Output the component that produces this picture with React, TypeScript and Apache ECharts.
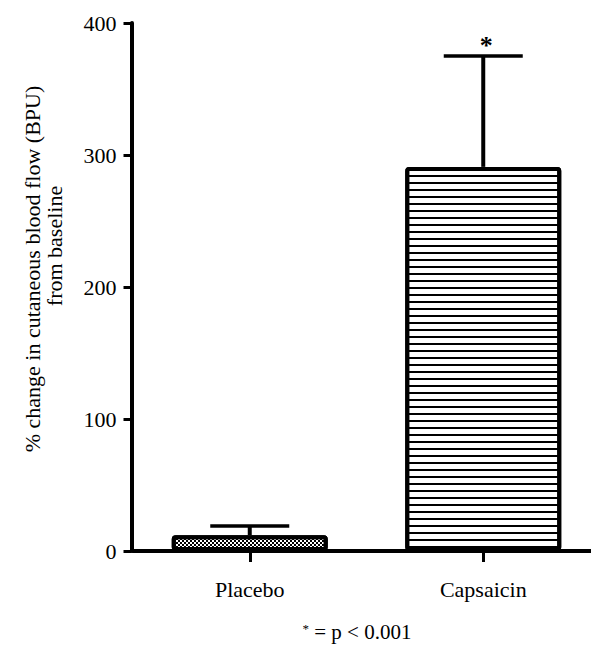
import React, { useEffect, useRef } from "react";
import * as echarts from "echarts";

const categories = ["Placebo", "Capsaicin"];
const meanValues = [12, 291];
const upperErrorValues = [19, 375];
const significance = ["", "*"];
const yTicks = { min: 0, max: 400, interval: 100 };
const yTitleLine1 = "% change in cutaneous blood flow (BPU)";
const yTitleLine2 = "from baseline";
const footnote = " = p < 0.001";

const FONT = "'Liberation Serif', 'Times New Roman', serif";

export default function App() {
  const ref = useRef<HTMLDivElement>(null);
  useEffect(() => {
    document.body.style.margin = "0";
    if (!ref.current) return;
    const chart = echarts.init(ref.current, null, { renderer: "svg" });
    const barData = meanValues.map((v, i) => ({
      value: v,
      itemStyle:
        i === 0
          ? {
              color: "#fff",
              borderColor: "#000",
              borderWidth: 4,
              borderRadius: 2,
              decal: {
                symbol: "rect",
                symbolSize: 1,
                color: "#000",
                dashArrayX: [
                  [2, 2],
                  [0, 2, 2, 0],
                ],
                dashArrayY: [2, 0],
                rotation: 0,
              },
            }
          : {
              color: "#fff",
              borderColor: "#000",
              borderWidth: 4,
              borderRadius: 2,
              decal: {
                symbol: "rect",
                symbolSize: 1,
                color: "#000",
                dashArrayX: [1, 0],
                dashArrayY: [2, 5],
                rotation: 0,
              },
            },
    }));
    const errData = categories.map((_, i) => [i, meanValues[i], upperErrorValues[i]]);
    chart.setOption({
      animation: false,
      grid: { left: 133, right: 0, top: 23, bottom: 94, containLabel: false },
      xAxis: {
        type: "category",
        data: categories,
        axisLine: { show: true, lineStyle: { color: "#000", width: 4 } },
        axisTick: { show: true, alignWithLabel: true, length: 11, lineStyle: { color: "#000", width: 3 } },
        axisLabel: { color: "#000", fontFamily: FONT, fontSize: 22, margin: 27 },
        splitLine: { show: false },
      },
      yAxis: {
        type: "value",
        min: yTicks.min,
        max: yTicks.max,
        interval: yTicks.interval,
        offset: 1.5,
        axisLine: { show: true, lineStyle: { color: "#000", width: 4 } },
        axisTick: { show: true, length: 8, lineStyle: { color: "#000", width: 3 } },
        axisLabel: { color: "#000", fontFamily: FONT, fontSize: 22, margin: 15 },
        splitLine: { show: false },
      },
      series: [
        {
          type: "bar",
          data: barData,
          barWidth: 156,
          z: 2,
        },
        {
          type: "custom",
          z: 3,
          data: errData,
          renderItem: (params: any, api: any) => {
            const idx = api.value(0);
            const top = api.coord([idx, api.value(1)]);
            const up = api.coord([idx, api.value(2)]);
            const half = 39.5;
            const children: any[] = [
              {
                type: "line",
                shape: { x1: top[0], y1: top[1], x2: up[0], y2: up[1] },
                style: { stroke: "#000", lineWidth: 4 },
              },
              {
                type: "line",
                shape: { x1: up[0] - half, y1: up[1], x2: up[0] + half, y2: up[1] },
                style: { stroke: "#000", lineWidth: 3.5 },
              },
            ];
            const sig = significance[params.dataIndex];
            if (sig) {
              children.push({
                type: "text",
                x: up[0] + 3,
                y: up[1] + 2,
                style: {
                  text: sig,
                  fill: "#000",
                  font: `bold 26px ${FONT}`,
                  textAlign: "center",
                  textVerticalAlign: "bottom",
                },
              });
            }
            return { type: "group", children };
          },
        },
      ],
      graphic: [
        {
          type: "text",
          x: 32,
          y: 269,
          rotation: Math.PI / 2,
          style: {
            text: yTitleLine1,
            fill: "#000",
            font: `22px ${FONT}`,
            textAlign: "center",
            textVerticalAlign: "middle",
          },
        },
        {
          type: "text",
          x: 54,
          y: 246,
          rotation: Math.PI / 2,
          style: {
            text: yTitleLine2,
            fill: "#000",
            font: `22px ${FONT}`,
            textAlign: "center",
            textVerticalAlign: "middle",
          },
        },
        {
          type: "text",
          x: 357,
          y: 632,
          style: {
            text: "{sup|*}{n|" + footnote + "}",
            textAlign: "center",
            textVerticalAlign: "middle",
            rich: {
              sup: { fontFamily: FONT, fontSize: 13, fill: "#000", verticalAlign: "top", padding: [0, 0, 8, 0] },
              n: { fontFamily: FONT, fontSize: 21, fill: "#000" },
            },
          },
        },
      ],
    });
    return () => chart.dispose();
  }, []);
  return (
    <div style={{ width: 591, height: 645, overflow: "hidden" }}>
      <div ref={ref} style={{ width: 600, height: 645 }} />
    </div>
  );
}
